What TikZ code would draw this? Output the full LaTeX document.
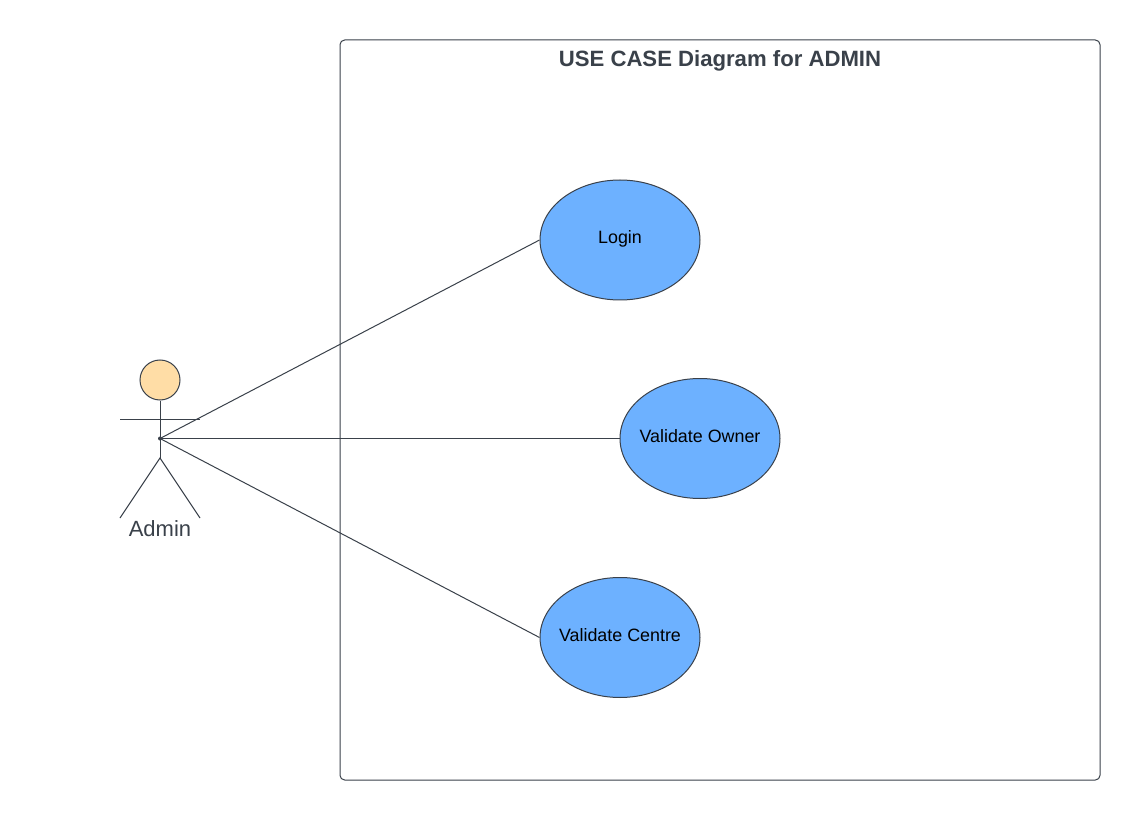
\documentclass[tikz,border=0pt]{standalone}
\usepackage{fontspec}
\setmainfont{Liberation Sans}
\usetikzlibrary{shapes.geometric}
\definecolor{ink}{HTML}{3A414A}
\definecolor{ucfill}{HTML}{6DB1FF}
\definecolor{headfill}{HTML}{FFDDA6}
\tikzset{
  x=0.75pt,y=-0.75pt,
  usecase/.style={ellipse,draw=ink,fill=ucfill,line width=0.75pt,minimum width=120pt,minimum height=90pt,inner sep=0pt},
  uclabel/.style={text=black,inner sep=0pt,font=\fontsize{13.4pt}{16pt}\selectfont},
  stick/.style={draw=ink,line width=0.75pt},
  link/.style={draw=ink,line width=0.75pt},
  boundary/.style={draw=ink,line width=0.75pt,rounded corners=3.5pt,fill=white},
}
\begin{document}
\begin{tikzpicture}
\useasboundingbox (0,0) rectangle (1140,820);
\fill[white] (0,0) rectangle (1140,820);
\node[boundary,minimum width=570pt,minimum height=555pt,inner sep=0pt] (sys) at (720,410) {};
\node[text=ink,font=\bfseries\fontsize{16.6pt}{20pt}\selectfont] (title) at (720,61) {USE CASE Diagram for ADMIN};
\node[circle,draw=ink,fill=headfill,line width=0.75pt,minimum size=30pt,inner sep=0pt] (head) at (160,380) {};
\coordinate (hip) at (160,458);
\coordinate (armL) at (120,419);
\coordinate (armR) at (200,419);
\coordinate (footL) at (120,518);
\coordinate (footR) at (200,518);
\coordinate (centre) at (160,438.5);
\draw[stick] (head.south) -- (hip);
\draw[stick] (armL) -- (armR);
\draw[stick] (footL) -- (hip) -- (footR);
\node[text=ink,font=\fontsize{16.5pt}{19pt}\selectfont] (admin) at (160,528.5) {Admin};
\node[usecase] (login) at (620,240) {};
\node[usecase] (owner) at (700,438.5) {};
\node[usecase] (vcentre) at (620,637.5) {};
\node[uclabel] (loginlabel) at (620,238.5) {Login};
\node[uclabel] (ownerlabel) at (700,436) {Validate Owner};
\node[uclabel] (centrelabel) at (620,635) {Validate Centre};
\fill[ink] (centre) circle (1.5pt);
\draw[link] (centre) -- (login.west);
\draw[link] (centre) -- (owner.west);
\draw[link] (centre) -- (vcentre.west);
\end{tikzpicture}
\end{document}
